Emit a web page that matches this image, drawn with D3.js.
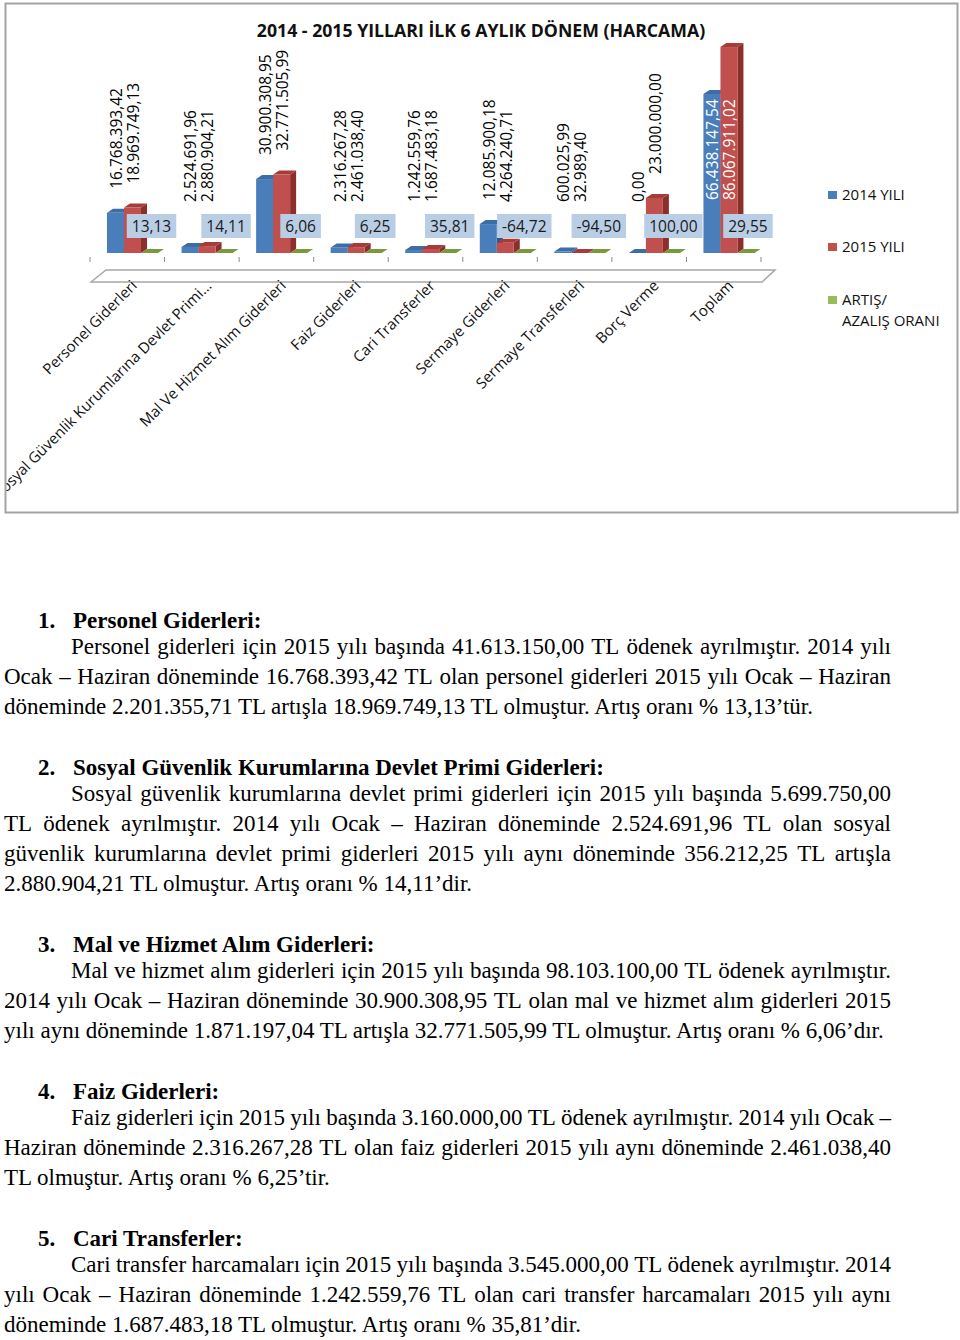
<!DOCTYPE html>
<html><head><meta charset="utf-8">
<script src="https://cdn.jsdelivr.net/npm/d3@7"></script>
<style>body{margin:0;background:#fff} svg{display:block}</style>
</head><body><svg id="c" width="960" height="1340"></svg>
<script>
// ---------- DATA ----------
const chartTitle = "2014 - 2015 YILLARI İLK 6 AYLIK DÖNEM (HARCAMA)";
const categories = ["Personel Giderleri","Sosyal Güvenlik Kurumlarına Devlet Primi…","Mal Ve Hizmet Alım Giderleri","Faiz Giderleri","Cari Transferler","Sermaye Giderleri","Sermaye Transferleri","Borç Verme","Toplam"];
const values2014 = [16768393.42, 2524691.96, 30900308.95, 2316267.28, 1242559.76, 12085900.18, 600025.99, 0, 66438147.54];
const values2015 = [18969749.13, 2880904.21, 32771505.99, 2461038.40, 1687483.18, 4264240.71, 32989.40, 23000000.00, 86067911.02];
const changeRate = [13.13, 14.11, 6.06, 6.25, 35.81, -64.72, -94.50, 100.00, 29.55];
const seriesKeys = ["y2014","y2015","rate"];
const legendLabels = [["2014 YILI"],["2015 YILI"],["ARTIŞ/","AZALIŞ ORANI"]];

const paraTitles = ["Personel Giderleri:","Sosyal Güvenlik Kurumlarına Devlet Primi Giderleri:","Mal ve Hizmet Alım Giderleri:","Faiz Giderleri:","Cari Transferler:"];
const paraLines = [
 ["Personel giderleri için 2015 yılı başında 41.613.150,00 TL ödenek ayrılmıştır. 2014 yılı",
  "Ocak – Haziran döneminde 16.768.393,42 TL olan personel giderleri 2015 yılı Ocak – Haziran",
  "döneminde 2.201.355,71 TL artışla 18.969.749,13 TL olmuştur. Artış oranı % 13,13’tür."],
 ["Sosyal güvenlik kurumlarına devlet primi giderleri için 2015 yılı başında 5.699.750,00",
  "TL ödenek ayrılmıştır. 2014 yılı Ocak – Haziran döneminde 2.524.691,96 TL olan sosyal",
  "güvenlik kurumlarına devlet primi giderleri 2015 yılı aynı döneminde 356.212,25 TL artışla",
  "2.880.904,21 TL olmuştur. Artış oranı % 14,11’dir."],
 ["Mal ve hizmet alım giderleri için 2015 yılı başında 98.103.100,00 TL ödenek ayrılmıştır.",
  "2014 yılı Ocak – Haziran döneminde 30.900.308,95 TL olan mal ve hizmet alım giderleri 2015",
  "yılı aynı döneminde 1.871.197,04 TL artışla 32.771.505,99 TL olmuştur. Artış oranı % 6,06’dır."],
 ["Faiz giderleri için 2015 yılı başında 3.160.000,00 TL ödenek ayrılmıştır. 2014 yılı Ocak –",
  "Haziran döneminde 2.316.267,28 TL olan faiz giderleri 2015 yılı aynı döneminde 2.461.038,40",
  "TL olmuştur. Artış oranı % 6,25’tir."],
 ["Cari transfer harcamaları için 2015 yılı başında 3.545.000,00 TL ödenek ayrılmıştır. 2014",
  "yılı Ocak – Haziran döneminde 1.242.559,76 TL olan cari transfer harcamaları 2015 yılı aynı",
  "döneminde 1.687.483,18 TL olmuştur. Artış oranı % 35,81’dir."]
];

// ---------- SETUP ----------
const svg = d3.select("#c");
const loc = d3.formatLocale({decimal:",", thousands:".", grouping:[3], currency:["",""], minus:"-"});
const fmt = loc.format(",.2f");
const SANS = "'Open Sans', sans-serif";
const LF = 15.5;

const rows = categories.map((c,i)=>({cat:c, y2014:values2014[i], y2015:values2015[i], rate:changeRate[i]}));

const x = d3.scaleBand().domain(categories).range([90, 761]).paddingInner(0).paddingOuter(0);
const xs = d3.scaleBand().domain(seriesKeys).range([17, 68]);
const y = d3.scaleLinear().domain([0, 90e6]).range([253, 253 - 90*2.393]);
const base = y(0);
const DX = 6, DY = 4;
const colors = {
  y2014:{front:"#4a7ebb", side:"#2f5a8c", top:"#3d6ca6"},
  y2015:{front:"#c0504d", side:"#8c2e2b", top:"#a53c39"},
  rate:{front:"#9bbb59", side:"#6e8a36", top:"#7a983c"}
};

// chart frame
svg.append("rect").attr("x",5.5).attr("y",3.5).attr("width",952).attr("height",509)
  .attr("fill","#fff").attr("stroke","#a3a3a3").attr("stroke-width",2);
svg.append("clipPath").attr("id","clip").append("rect").attr("x",6.5).attr("y",4.5).attr("width",950).attr("height",507);
const chart = svg.append("g").attr("clip-path","url(#clip)");

// title
chart.append("text").attr("x",481).attr("y",37).attr("text-anchor","middle")
  .attr("font-family",SANS).attr("font-weight","bold").attr("font-size",17.7).attr("fill","#111")
  .text(chartTitle);

// floor
const x0 = x.range()[0], x1 = x.range()[1];
chart.append("path")
  .attr("d", `M${x0+1},282 L${x0+16},270 L${x1+14},270 L${x1+1},282 Z`)
  .attr("fill","none").attr("stroke","#a6a6a6").attr("stroke-width",1.5);

// ticks
chart.selectAll("line.tick").data(d3.range(categories.length+1)).join("line")
  .attr("x1",i=>x0 + i*x.bandwidth()).attr("x2",i=>x0 + i*x.bandwidth())
  .attr("y1",257).attr("y2",262).attr("stroke","#8a8a8a").attr("stroke-width",1);

// bars
const groups = chart.selectAll("g.cat").data(rows).join("g").attr("class","cat")
  .attr("transform",d=>`translate(${x(d.cat)},0)`);
seriesKeys.forEach(k=>{
  groups.each(function(d){
    const g = d3.select(this);
    const v = d[k];
    const bx = xs(k), w = xs.bandwidth();
    const top = Math.min(y(v), base);
    const bot = Math.max(y(v), base);
    const c = colors[k];
    g.append("path").attr("d",`M${bx+w},${top} L${bx+w+DX},${top-DY} L${bx+w+DX},${bot-DY} L${bx+w},${bot} Z`).attr("fill",c.side);
    g.append("rect").attr("x",bx).attr("y",top).attr("width",w).attr("height",bot-top).attr("fill",c.front);
    g.append("path").attr("d",`M${bx},${top} L${bx+DX},${top-DY} L${bx+w+DX},${top-DY} L${bx+w},${top} Z`).attr("fill",c.top);
  });
});

// rate boxes geometry
const BOX_CY = 226, BOX_H = 24;
const boxTop = BOX_CY - BOX_H/2;

// value labels
["y2014","y2015"].forEach(k=>{
  groups.each(function(d){
    const g = d3.select(this);
    const t = g.append("text").attr("font-family",SANS).attr("font-size",LF).attr("fill","#000")
      .attr("dy","0.35em").text(fmt(d[k]));
    const len = t.node().getComputedTextLength();
    const barTop = y(d[k]) - DY;
    let end = Math.min(barTop - 20, boxTop - 12);
    if (end - len < 45) { end = boxTop - 14; t.attr("fill","#fff"); }
    const lx = xs(k) + xs.bandwidth()/2 + 1;
    t.attr("transform",`translate(${lx},${end}) rotate(-90)`);
  });
});

// rate boxes
groups.each(function(d){
  const g = d3.select(this);
  const cx = xs("rate") + xs.bandwidth()/2 + 2;
  const t = g.append("text").attr("font-family",SANS).attr("font-size",LF).attr("fill","#1a1a1a")
    .attr("text-anchor","middle").attr("x",cx).attr("y",BOX_CY).attr("dy","0.36em").text(fmt(d.rate));
  const w = t.node().getComputedTextLength() + 10;
  g.insert("rect", () => t.node()).attr("x",cx - w/2).attr("y",boxTop).attr("width",w).attr("height",BOX_H)
    .attr("fill","#b9cde5");
});

// category labels
chart.selectAll("text.cat").data(categories).join("text").attr("class","cat")
  .attr("font-family",SANS).attr("font-size",15).attr("fill","#111").attr("text-anchor","end")
  .attr("dy","0.72em")
  .attr("transform",d=>`translate(${x(d)+x.bandwidth()/2+3},279) rotate(-45)`)
  .text(d=>d);

// legend
const legY = [195, 247, 300];
legendLabels.forEach((lines,i)=>{
  chart.append("rect").attr("x",828).attr("y",legY[i]-4).attr("width",9).attr("height",8).attr("fill",colors[seriesKeys[i]].front);
  lines.forEach((ln,j)=>{
    chart.append("text").attr("x",842).attr("y",legY[i]+21*j).attr("dy","0.36em")
      .attr("font-family",SANS).attr("font-size",15).attr("fill","#111").text(ln);
  });
});

// ---------- TEXT BODY ----------
const F = 23;
const SERIF = "'Liberation Serif','Times New Roman',serif";
const body = svg.append("g").attr("font-family",SERIF).attr("font-size",F).attr("fill","#000");
function measure(str, bold){
  const t = body.append("text").attr("font-weight",bold?"bold":"normal").text(str);
  const w = t.node().getComputedTextLength(); t.remove(); return w;
}
function drawLine(str, lx0, lx1, yy, justify){
  const t = body.append("text").attr("y",yy);
  if (!justify){ t.attr("x",lx0).text(str); return; }
  const words = str.split(" ");
  const ws = words.map(w=>measure(w,false));
  const gap = (lx1 - lx0 - d3.sum(ws)) / (words.length-1);
  let cx = lx0;
  words.forEach((w,i)=>{ t.append("tspan").attr("x",cx).text(w); cx += ws[i] + gap; });
}
let hy = 628;
paraTitles.forEach((title,pi)=>{
  body.append("text").attr("x",38).attr("y",hy).attr("font-weight","bold").text((pi+1)+".");
  body.append("text").attr("x",73).attr("y",hy).attr("font-weight","bold").text(title);
  const lines = paraLines[pi];
  lines.forEach((ln,li)=>{
    drawLine(ln, li===0?71:4, 891, hy + 26 + 30*li, li < lines.length-1);
  });
  hy += 87 + 30*(lines.length-1);
});
</script></body></html>
